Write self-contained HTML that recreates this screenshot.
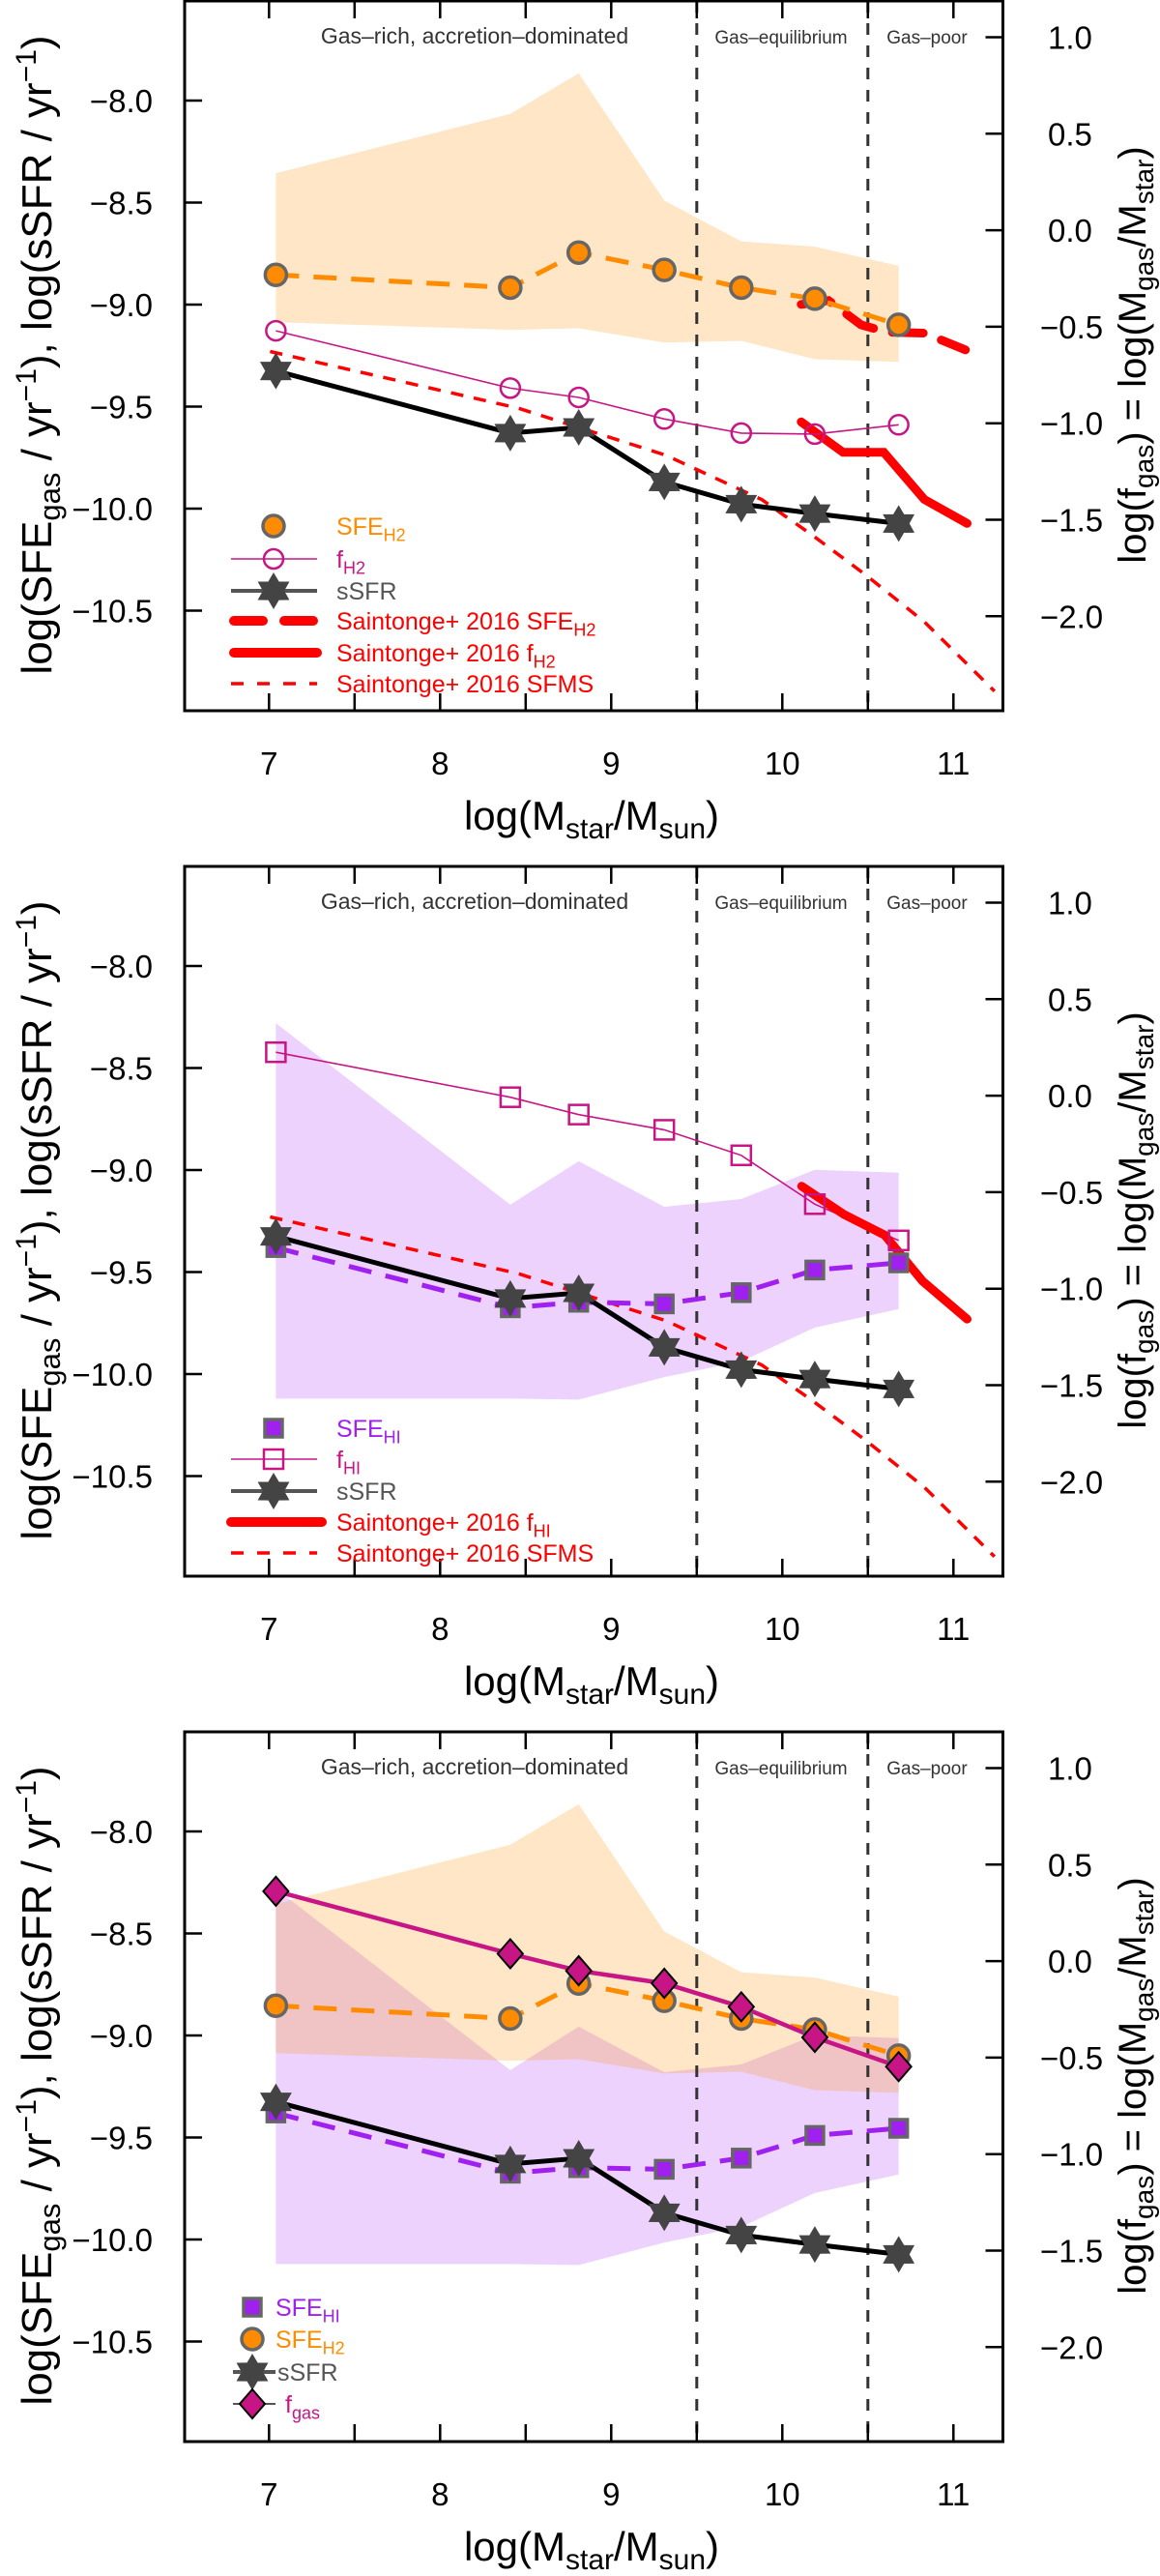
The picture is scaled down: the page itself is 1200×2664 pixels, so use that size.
<!DOCTYPE html>
<html><head><meta charset="utf-8"><style>
html,body{margin:0;padding:0;background:#fff}
svg{display:block;font-family:"Liberation Sans","DejaVu Sans",sans-serif}
</style></head><body>
<svg id="fig" width="1200" height="2664" viewBox="0 0 1200 2664" xmlns="http://www.w3.org/2000/svg"></svg>
<script>
// ---- data ----
const massBins = [7.04, 8.41, 8.81, 9.31, 9.76, 10.19, 10.68];
const sfeH2 = [-8.854, -8.917, -8.745, -8.83, -8.917, -8.971, -9.099];
const sfeH2Upper = [-8.356, -8.065, -7.867, -8.49, -8.69, -8.716, -8.81];
const sfeH2Lower = [-9.086, -9.124, -9.116, -9.186, -9.178, -9.268, -9.281];
const fH2 = [-0.521, -0.818, -0.866, -0.978, -1.051, -1.056, -1.008];
const ssfr = [-9.325, -9.63, -9.602, -9.869, -9.978, -10.024, -10.073];
const sfeHI = [-9.38, -9.675, -9.648, -9.656, -9.601, -9.49, -9.455];
const sfeHIUpper = [-8.28, -9.17, -8.957, -9.18, -9.142, -8.999, -9.013];
const sfeHILower = [-10.12, -10.12, -10.125, -10.015, -9.938, -9.772, -9.681];
const fHI = [0.225, -0.008, -0.098, -0.177, -0.309, -0.562, -0.75];
const fgas = [0.362, 0.038, -0.05, -0.115, -0.237, -0.395, -0.547];
const saintSfeMass = [10.11, 10.27, 10.46, 10.61, 10.83, 11.07];
const saintSfe = [-8.999, -8.98, -9.099, -9.135, -9.14, -9.222];
const saintFH2Mass = [10.11, 10.355, 10.593, 10.83, 11.08];
const saintFH2 = [-0.993, -1.151, -1.151, -1.395, -1.519];
const saintFHIMass = [10.113, 10.36, 10.598, 10.82, 11.08];
const saintFHI = [-0.469, -0.615, -0.722, -0.961, -1.158];
const sfmsMass = [7.006, 8.454, 9.318, 9.88, 10.18, 10.485, 10.83, 11.24];
const sfmsVal = [-9.23, -9.507, -9.738, -9.956, -10.133, -10.323, -10.555, -10.895];
const xTicks = [7, 8, 9, 10, 11];
const leftTicks = [-8.0, -8.5, -9.0, -9.5, -10.0, -10.5];
const rightTicks = [1.0, 0.5, 0.0, -0.5, -1.0, -1.5, -2.0];
const regimeBounds = [9.5, 10.5];

// ---- geometry ----
const NS = "http://www.w3.org/2000/svg";
const svg = document.getElementById('fig');
const BX0 = 191, BX1 = 1037.5, BH = 734;
const xS = m => 278.3 + (m - 7) * 177;
const yL = (v, top) => top + 103 + (-8 - v) * 211;
const yR = (v, top) => top + 37.5 + (1 - v) * 199.6;
function el(tag, attrs, parent) {
  const e = document.createElementNS(NS, tag);
  for (const k in attrs) e.setAttribute(k, attrs[k]);
  (parent || svg).appendChild(e);
  return e;
}
function fmt(v){ const s = Math.abs(v).toFixed(1); return (v < 0 ? "\u2212" : "") + s; }
function starPts(cx, cy, R, r) {
  const p = [];
  for (let i = 0; i < 12; i++) {
    const a = -Math.PI / 2 + i * Math.PI / 6;
    const rr = i % 2 ? r : R;
    p.push((cx + rr * Math.cos(a)).toFixed(1) + "," + (cy + rr * Math.sin(a)).toFixed(1));
  }
  return p.join(" ");
}
function linePts(xs, ys, yf, top) { return xs.map((m, i) => xS(m).toFixed(1) + "," + yf(ys[i], top).toFixed(1)).join(" "); }
function bandPts(up, lo, top) {
  const a = massBins.map((m, i) => xS(m) + "," + yL(up[i], top));
  const b = massBins.map((m, i) => xS(m) + "," + yL(lo[i], top)).reverse();
  return a.concat(b).join(" ");
}
function subText(parent, x, y, main, sub, color, size, anchor) {
  const t = el('text', {x: x, y: y, fill: color, 'font-size': size, 'text-anchor': anchor || 'start'}, parent);
  t.appendChild(document.createTextNode(main));
  if (sub) {
    const s = el('tspan', {'font-size': size * 0.72, dy: size * 0.25}, t);
    s.textContent = sub;
  }
  return t;
}

// markers
function drawCircleFilled(g, x, y) { const c = el('circle', {cx: x, cy: y, r: 11, fill: '#FF8C00', stroke: '#666', 'stroke-width': 3.5}, g); return c; }
function drawCircleOpen(g, x, y) { return el('circle', {cx: x, cy: y, r: 10, fill: 'none', stroke: '#C71585', 'stroke-width': 2.5}, g); }
function drawStar(g, x, y) { return el('polygon', {points: starPts(x, y, 18, 10.5), fill: '#444', stroke: '#444', 'stroke-width': 1}, g); }
function drawSqFilled(g, x, y) { return el('rect', {x: x - 9, y: y - 9, width: 18, height: 18, fill: '#A020F0', stroke: '#666', 'stroke-width': 3.5}, g); }
function drawSqOpen(g, x, y) { return el('rect', {x: x - 10, y: y - 10, width: 20, height: 20, fill: 'none', stroke: '#C71585', 'stroke-width': 2.5}, g); }
function drawDiamond(g, x, y) { return el('polygon', {points: `${x},${y-15} ${x+13},${y} ${x},${y+15} ${x-13},${y}`, fill: '#C71585', stroke: '#000', 'stroke-width': 2}, g); }

function panel(idx, top, kind) {
  const g = el('g', {});
  
  
  const cp = el('clipPath', {id: 'clip' + idx}, g);
  el('rect', {x: BX0, y: top, width: BX1 - BX0, height: BH}, cp);
  const plot = el('g', {'clip-path': `url(#clip${idx})`}, g);
  
  

  // bands
  if (kind === 2 || kind === 3) {
    const b = el('polygon', {points: bandPts(sfeHIUpper, sfeHILower, top), fill: 'rgba(160,32,240,0.2)'}, plot);
    
    
  }
  if (kind === 1 || kind === 3) {
    const b = el('polygon', {points: bandPts(sfeH2Upper, sfeH2Lower, top), fill: 'rgba(255,140,0,0.22)'}, plot);
    
    
  }
  // regime lines
  regimeBounds.forEach(m => {
    const l = el('line', {x1: xS(m), x2: xS(m), y1: top, y2: top + BH, stroke: '#333', 'stroke-width': 3, 'stroke-dasharray': '12,11'}, plot);
    
    
  });
  // saintonge
  if (kind === 1 || kind === 2) {
    const s = el('polyline', {points: linePts(sfmsMass, sfmsVal, yL, top), fill: 'none', stroke: '#FF0000', 'stroke-width': 3.5, 'stroke-dasharray': '13,11'}, plot);
    
    
  }
  if (kind === 1) {
    const a = el('polyline', {points: linePts(saintSfeMass, saintSfe, yL, top), fill: 'none', stroke: '#FF0000', 'stroke-width': 9, 'stroke-dasharray': '32,20', 'stroke-linecap': 'round'}, plot);
    
    
    const b = el('polyline', {points: linePts(saintFH2Mass, saintFH2, yR, top), fill: 'none', stroke: '#FF0000', 'stroke-width': 9, 'stroke-linecap': 'round'}, plot);
    
    
  }
  // series lines
  if (kind === 1) {
    const a = el('polyline', {points: linePts(massBins, sfeH2, yL, top), fill: 'none', stroke: '#FF8C00', 'stroke-width': 5, 'stroke-dasharray': '24,15'}, plot);
    
    
    const b = el('polyline', {points: linePts(massBins, fH2, yR, top), fill: 'none', stroke: '#C71585', 'stroke-width': 1.6}, plot);
    
    
  }
  if (kind === 2) {
    const a = el('polyline', {points: linePts(massBins, sfeHI, yL, top), fill: 'none', stroke: '#A020F0', 'stroke-width': 5, 'stroke-dasharray': '24,15'}, plot);
    
    
    const b = el('polyline', {points: linePts(massBins, fHI, yR, top), fill: 'none', stroke: '#C71585', 'stroke-width': 1.6}, plot);
    
    
    const c = el('polyline', {points: linePts(saintFHIMass, saintFHI, yR, top), fill: 'none', stroke: '#FF0000', 'stroke-width': 9, 'stroke-linecap': 'round'}, plot);
    
    
  }
  if (kind === 3) {
    const a = el('polyline', {points: linePts(massBins, sfeHI, yL, top), fill: 'none', stroke: '#A020F0', 'stroke-width': 5, 'stroke-dasharray': '24,15'}, plot);
    
    
    const b = el('polyline', {points: linePts(massBins, sfeH2, yL, top), fill: 'none', stroke: '#FF8C00', 'stroke-width': 5, 'stroke-dasharray': '24,15'}, plot);
    
    
  }
  const ss = el('polyline', {points: linePts(massBins, ssfr, yL, top), fill: 'none', stroke: '#000', 'stroke-width': 5}, plot);
  
  
  if (kind === 3) {
    const f = el('polyline', {points: linePts(massBins, fgas, yR, top), fill: 'none', stroke: '#C71585', 'stroke-width': 4.5}, plot);
    
    
  }
  // markers
  massBins.forEach((m, i) => {
    const x = xS(m);
    if (kind === 1) {
      const a = drawCircleFilled(plot, x, yL(sfeH2[i], top));
      
      
      const b = drawCircleOpen(plot, x, yR(fH2[i], top));
      
      
    }
    if (kind === 2) {
      const a = drawSqFilled(plot, x, yL(sfeHI[i], top));
      
      
      const b = drawSqOpen(plot, x, yR(fHI[i], top));
      
      
    }
    if (kind === 3) {
      const a = drawSqFilled(plot, x, yL(sfeHI[i], top));
      
      
      const b = drawCircleFilled(plot, x, yL(sfeH2[i], top));
      
      
    }
    const s = drawStar(plot, x, yL(ssfr[i], top));
    
    
    if (kind === 3) {
      const d = drawDiamond(plot, x, yR(fgas[i], top));
      
      
    }
  });

  // regime labels
  const regimes = [["Gas\u2013rich, accretion\u2013dominated", 491, 23], ["Gas\u2013equilibrium", 808, 19], ["Gas\u2013poor", 959, 19]];
  regimes.forEach(r => {
    const t = el('text', {x: r[1], y: top + 44, 'text-anchor': 'middle', 'font-size': r[2], fill: '#333'}, g);
    t.textContent = r[0];
    
    
  });

  // box
  const box = el('rect', {x: BX0, y: top, width: BX1 - BX0, height: BH, fill: 'none', stroke: '#000', 'stroke-width': 3}, g);
  
  
  // x ticks (every 0.5, inward, top & bottom)
  for (let m = 7; m <= 11.001; m += 0.5) {
    const x = xS(m);
    const a = el('line', {x1: x, x2: x, y1: top + BH, y2: top + BH - 18, stroke: '#000', 'stroke-width': 2.5}, g);
    
    
    const b = el('line', {x1: x, x2: x, y1: top, y2: top + 18, stroke: '#000', 'stroke-width': 2.5}, g);
    
    
  }
  xTicks.forEach(m => {
    const t = el('text', {x: xS(m), y: top + 800, 'text-anchor': 'middle', 'font-size': 33}, g);
    t.textContent = String(m);
    
    
  });
  leftTicks.forEach(v => {
    const y = yL(v, top);
    const l = el('line', {x1: BX0, x2: BX0 + 18, y1: y, y2: y, stroke: '#000', 'stroke-width': 2.5}, g);
    
    
    const t = el('text', {x: 158, y: y + 12, 'text-anchor': 'end', 'font-size': 33}, g);
    t.textContent = fmt(v);
    
    
  });
  rightTicks.forEach(v => {
    const y = yR(v, top);
    const l = el('line', {x1: BX1, x2: BX1 - 18, y1: y, y2: y, stroke: '#000', 'stroke-width': 2.5}, g);
    
    
    const t = el('text', {x: v < 0 ? 1076 : 1084, y: y + 12, 'text-anchor': 'start', 'font-size': 33}, g);
    t.textContent = fmt(v);
    
    
  });
  // axis titles
  const xt = el('text', {x: 612, y: top + 857, 'text-anchor': 'middle', 'font-size': 42}, g);
  
  
  xt.innerHTML = 'log(M<tspan font-size="30" dy="9">star</tspan><tspan dy="-9">/M</tspan><tspan font-size="30" dy="9">sun</tspan><tspan dy="-9">)</tspan>';
  const lt = el('text', {x: 0, y: 0, 'text-anchor': 'middle', 'font-size': 44, transform: `translate(53,${top + 366}) rotate(-90)`}, g);
  
  
  lt.innerHTML = 'log(SFE<tspan font-size="31" dy="9">gas</tspan><tspan dy="-9"> / yr</tspan><tspan font-size="30" dy="-16">\u22121</tspan><tspan dy="16">), log(sSFR / yr</tspan><tspan font-size="30" dy="-16">\u22121</tspan><tspan dy="16">)</tspan>';
  const rt = el('text', {x: 0, y: 0, 'text-anchor': 'middle', 'font-size': 40, transform: `translate(1185,${top + 366}) rotate(-90)`}, g);
  
  
  rt.innerHTML = 'log(f<tspan font-size="28" dy="8">gas</tspan><tspan dy="-8">) = log(M</tspan><tspan font-size="28" dy="8">gas</tspan><tspan dy="-8">/M</tspan><tspan font-size="28" dy="8">star</tspan><tspan dy="-8">)</tspan>';

  // legend
  const lg = el('g', {}, g);
  
  
  const lx0 = 239, lx1 = 328, lm = 283, tx = 348;
  function row(y, name) { const r = el('g', {}, lg);   return r; }
  if (kind === 1) {
    const ys = [544, 578, 611, 642, 675, 707].map(v => v + top - 1);
    let r = row(ys[0], 'legend-entry-sfe-h2'); drawCircleFilled(r, lm, ys[0]); subText(r, tx, ys[0] + 9, 'SFE', 'H2', '#FF8C00', 25);
    r = row(ys[1], 'legend-entry-fh2'); el('line', {x1: lx0, x2: lx1, y1: ys[1], y2: ys[1], stroke: '#C71585', 'stroke-width': 1.6}, r); drawCircleOpen(r, lm, ys[1]); subText(r, tx, ys[1] + 9, 'f', 'H2', '#C71585', 25);
    r = row(ys[2], 'legend-entry-ssfr'); el('line', {x1: lx0, x2: lx1, y1: ys[2], y2: ys[2], stroke: '#555', 'stroke-width': 4}, r); drawStar(r, lm, ys[2]); subText(r, tx, ys[2] + 9, 'sSFR', '', '#555', 25);
    r = row(ys[3], 'legend-entry-saintonge-sfe-h2'); el('line', {x1: lx0 + 3, x2: lx1, y1: ys[3], y2: ys[3], stroke: '#FF0000', 'stroke-width': 10, 'stroke-dasharray': '30,22', 'stroke-linecap': 'round'}, r); subText(r, tx, ys[3] + 9, 'Saintonge+ 2016 SFE', 'H2', '#FF0000', 25);
    r = row(ys[4], 'legend-entry-saintonge-fh2'); el('line', {x1: lx0 + 3, x2: lx1, y1: ys[4], y2: ys[4], stroke: '#FF0000', 'stroke-width': 10, 'stroke-linecap': 'round'}, r); subText(r, tx, ys[4] + 9, 'Saintonge+ 2016 f', 'H2', '#FF0000', 25);
    r = row(ys[5], 'legend-entry-saintonge-sfms'); el('line', {x1: lx0, x2: lx1, y1: ys[5], y2: ys[5], stroke: '#FF0000', 'stroke-width': 3.5, 'stroke-dasharray': '13,14'}, r); subText(r, tx, ys[5] + 9, 'Saintonge+ 2016 SFMS', '', '#FF0000', 25);
  } else if (kind === 2) {
    const ys = [582, 614, 647, 679, 711].map(v => v + top - 1);
    let r = row(ys[0], 'legend-entry-sfe-hi'); drawSqFilled(r, lm, ys[0]); subText(r, tx, ys[0] + 9, 'SFE', 'HI', '#A020F0', 25);
    r = row(ys[1], 'legend-entry-fhi'); el('line', {x1: lx0, x2: lx1, y1: ys[1], y2: ys[1], stroke: '#C71585', 'stroke-width': 1.6}, r); drawSqOpen(r, lm, ys[1]); subText(r, tx, ys[1] + 9, 'f', 'HI', '#C71585', 25);
    r = row(ys[2], 'legend-entry-ssfr'); el('line', {x1: lx0, x2: lx1, y1: ys[2], y2: ys[2], stroke: '#555', 'stroke-width': 4}, r); drawStar(r, lm, ys[2]); subText(r, tx, ys[2] + 9, 'sSFR', '', '#555', 25);
    r = row(ys[3], 'legend-entry-saintonge-fhi'); el('line', {x1: lx0, x2: lx1 + 5, y1: ys[3], y2: ys[3], stroke: '#FF0000', 'stroke-width': 10, 'stroke-linecap': 'round'}, r); subText(r, tx, ys[3] + 9, 'Saintonge+ 2016 f', 'HI', '#FF0000', 25);
    r = row(ys[4], 'legend-entry-saintonge-sfms'); el('line', {x1: lx0, x2: lx1, y1: ys[4], y2: ys[4], stroke: '#FF0000', 'stroke-width': 3.5, 'stroke-dasharray': '13,14'}, r); subText(r, tx, ys[4] + 9, 'Saintonge+ 2016 SFMS', '', '#FF0000', 25);
  } else {
    const ys = [596, 629, 663, 696].map(v => v + top - 1);
    const m3 = 261, t3 = 285;
    let r = row(ys[0], 'legend-entry-sfe-hi'); drawSqFilled(r, m3, ys[0]); subText(r, t3, ys[0] + 9, 'SFE', 'HI', '#A020F0', 25);
    r = row(ys[1], 'legend-entry-sfe-h2'); drawCircleFilled(r, m3, ys[1]); subText(r, t3, ys[1] + 9, 'SFE', 'H2', '#FF8C00', 25);
    r = row(ys[2], 'legend-entry-ssfr'); el('line', {x1: 241, x2: 285, y1: ys[2], y2: ys[2], stroke: '#555', 'stroke-width': 4}, r); drawStar(r, m3, ys[2]); subText(r, 287, ys[2] + 9, 'sSFR', '', '#555', 25);
    r = row(ys[3], 'legend-entry-fgas'); el('line', {x1: 241, x2: 285, y1: ys[3], y2: ys[3], stroke: '#555', 'stroke-width': 2}, r); drawDiamond(r, m3, ys[3]); subText(r, 295, ys[3] + 9, 'f', 'gas', '#C71585', 25);
  }
}
panel(1, 1, 1);
panel(2, 896, 2);
panel(3, 1791, 3);
</script>
</body></html>
